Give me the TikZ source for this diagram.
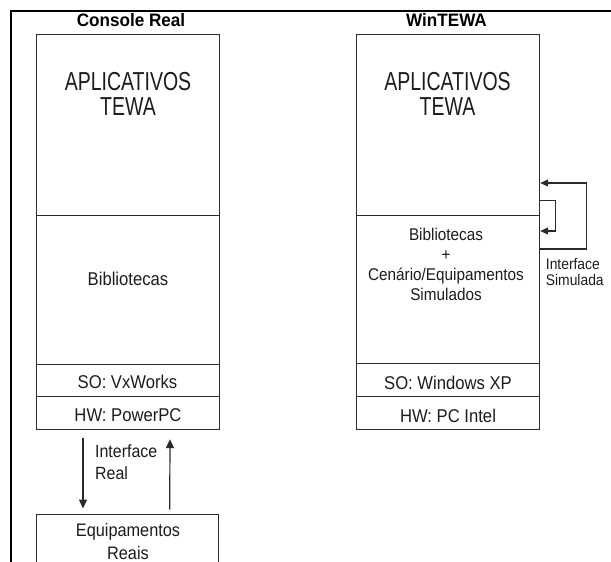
\documentclass[tikz,border=0pt]{standalone}
\usepackage{fontspec}
\setmainfont{Liberation Sans}[FakeStretch=0.9]
\newfontfamily\bigfam{Liberation Sans}[FakeStretch=0.75]
\newfontfamily\ttlfam{Liberation Sans}[FakeStretch=0.95]
\usetikzlibrary{arrows.meta}
\definecolor{linec}{HTML}{2A2A2A}
\definecolor{textc}{HTML}{1C1C1C}
\begin{document}
\begin{tikzpicture}[x=1pt,y=-1pt,
  box/.style={draw=linec, line width=1.2pt, inner sep=0pt, anchor=north west, minimum width=183pt},
  txt/.style={text=textc, inner sep=0pt},
  mid/.style={font=\fontsize{18.5}{22}\selectfont},
  big/.style={font=\bigfam\fontsize{26}{24.5}\selectfont},
  ttl/.style={font=\ttlfam\bfseries\fontsize{18}{20}\selectfont, text=black},
  arr/.style={draw=linec, line width=1.2pt, -{Triangle[length=9pt,width=8pt]}},
  arrs/.style={draw=linec, line width=1.2pt, -{Triangle[length=8pt,width=7pt]}}]
\useasboundingbox (0,0) rectangle (611,562);
% outer frame
\draw[line width=2pt, black] (11,580) -- (11,11) -- (620,11);
% titles
\node[txt, ttl, anchor=base] (tL) at (131,27) {Console Real};
\node[txt, ttl, anchor=base] (tR) at (446.5,27) {WinTEWA};
% left stack
\node[box, minimum height=181pt] (appL) at (36,34) {};
\node[box, minimum height=149pt] (bibL) at (36,215) {};
\node[box, minimum height=32pt] (soL) at (36,364) {};
\node[box, minimum height=33pt] (hwL) at (36,396) {};
% right stack
\node[box, minimum height=181pt] (appR) at (356,34) {};
\node[box, minimum height=148pt] (bibR) at (356,215) {};
\node[box, minimum height=33pt] (soR) at (356,363) {};
\node[box, minimum height=33pt] (hwR) at (356,396) {};
% equipment box
\node[box, minimum width=182pt, minimum height=80pt] (eqL) at (35.7,513.5) {};
% texts
\node[txt, big, align=center, anchor=north] (appLt) at (128,72.5) {APLICATIVOS\\TEWA};
\node[txt, big, align=center, anchor=north] (appRt) at (447.5,72.5) {APLICATIVOS\\TEWA};
\node[txt, mid, anchor=north] (bibLt) at (128,271.5) {Bibliotecas};
\node[txt, font=\fontsize{17}{20.3}\selectfont, align=center, anchor=north] (bibRt) at (446,227.5) {Bibliotecas\\+\\Cenário/Equipamentos\\Simulados};
\node[txt, mid, anchor=base] (soLt) at (127.5,388.3) {SO: VxWorks};
\node[txt, mid, anchor=base] (hwLt) at (128,421.7) {HW: PowerPC};
\node[txt, mid, anchor=base] (soRt) at (448,389.3) {SO: Windows XP};
\node[txt, mid, anchor=base] (hwRt) at (448,422.3) {HW: PC Intel};
\node[txt, font=\fontsize{15.4}{16.5}\selectfont, align=left, anchor=north west] (isim) at (545.7,257.8) {Interface\\Simulada};
\node[txt, font=\fontsize{17.7}{22}\selectfont, align=left, anchor=north west] (ireal) at (95,444.3) {Interface\\Real};
\node[txt, font=\fontsize{18.1}{23}\selectfont, align=center, anchor=north] (eqLt) at (128,523) {Equipamentos\\Reais};
% real interface arrows
\draw[arr] ([xshift=47pt,yshift=-8pt]hwL.south west) -- ([xshift=47.3pt,yshift=5pt]eqL.north west);
\draw[arr] ([xshift=134pt,yshift=4pt]eqL.north west) -- ([xshift=134pt,yshift=-9pt]hwL.south west);
% simulated interface loops
\draw[arrs] ([yshift=-34pt]bibR.north east) -- ++(46,0) |- ([yshift=-149pt]appR.north east);
\draw[arrs] ([yshift=16pt]appR.south east) -- ++(15,0) |- ([yshift=-16pt]bibR.north east);
\end{tikzpicture}
\end{document}
